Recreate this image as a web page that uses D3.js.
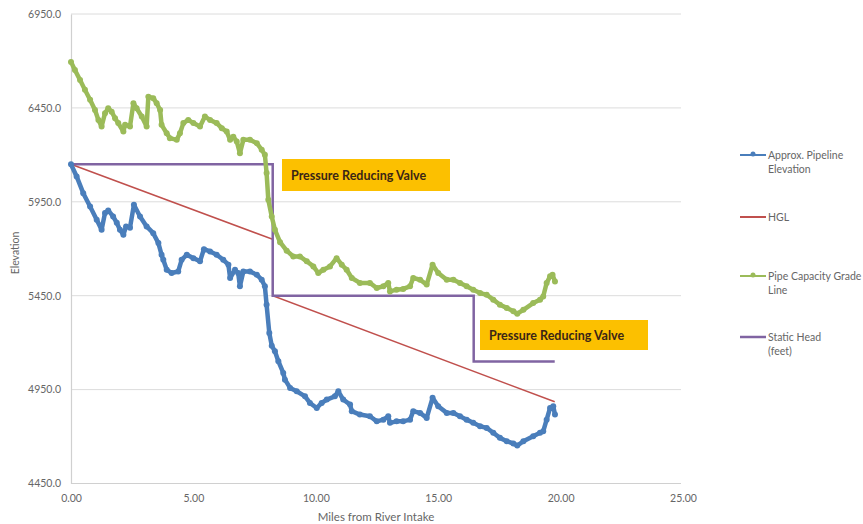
<!DOCTYPE html>
<html>
<head>
<meta charset="utf-8">
<script src="https://cdn.jsdelivr.net/npm/d3@7"></script>
<style>
  html, body { margin: 0; padding: 0; background: #ffffff; }
  svg { display: block; }
</style>
</head>
<body>
<div id="chart"></div>
<script>
// Pipeline profile: miles from the river intake vs elevation (feet)
const pipelineMiles = [0,0.23,0.5,0.78,1.05,1.25,1.39,1.52,1.72,1.87,2.0,2.14,2.25,2.41,2.57,2.82,3.09,3.36,3.57,3.7,3.77,3.91,4.11,4.38,4.52,4.73,5.0,5.27,5.43,5.68,5.95,6.22,6.43,6.5,6.7,6.83,6.9,7.04,7.31,7.59,7.79,7.92,7.99,8.1,8.2,8.33,8.47,8.67,8.74,8.95,9.22,9.56,9.76,10.04,10.24,10.45,10.78,10.92,11.12,11.4,11.47,11.8,12.21,12.49,12.76,12.96,13.03,13.3,13.57,13.85,13.98,14.26,14.53,14.77,15.0,15.35,15.62,15.89,16.16,16.43,16.71,16.98,17.25,17.52,17.8,18.07,18.23,18.48,18.88,19.16,19.29,19.43,19.57,19.7,19.77];
const pipelineElev = [6150,6085,5996,5925,5854,5801,5891,5904,5872,5838,5801,5774,5819,5812,5934,5872,5819,5783,5730,5668,5641,5588,5571,5579,5641,5668,5650,5633,5698,5686,5668,5641,5615,5544,5588,5571,5500,5579,5579,5562,5535,5500,5402,5252,5184,5154,5101,5039,5003,4959,4941,4914,4879,4852,4879,4897,4914,4941,4897,4870,4835,4817,4808,4781,4790,4808,4773,4781,4781,4790,4835,4826,4799,4906,4861,4826,4826,4808,4790,4773,4755,4746,4720,4693,4675,4663,4652,4675,4702,4720,4728,4790,4852,4861,4817];

const capacityMiles = [0,0.16,0.37,0.57,0.78,0.98,1.12,1.25,1.39,1.52,1.66,1.8,1.93,2.14,2.21,2.41,2.55,2.68,2.89,3.09,3.16,3.36,3.5,3.64,3.7,3.91,4.04,4.32,4.45,4.59,4.79,5.0,5.27,5.47,5.68,5.95,6.16,6.36,6.5,6.63,6.77,6.9,7.04,7.31,7.59,7.79,7.92,7.99,8.06,8.2,8.33,8.54,8.81,9.08,9.35,9.63,9.9,10.1,10.31,10.58,10.85,11.06,11.26,11.47,11.8,12.21,12.49,12.76,12.96,13.03,13.3,13.57,13.85,13.98,14.26,14.53,14.77,15.0,15.35,15.62,15.89,16.16,16.43,16.71,16.98,17.25,17.52,17.8,18.07,18.23,18.48,18.88,19.16,19.29,19.43,19.57,19.67,19.77];
const capacityElev = [6695,6652,6599,6546,6493,6439,6386,6351,6422,6448,6430,6395,6369,6324,6360,6351,6475,6448,6404,6351,6510,6502,6475,6439,6360,6315,6289,6280,6315,6369,6386,6369,6351,6404,6386,6369,6342,6324,6280,6297,6271,6209,6280,6280,6262,6227,6200,6103,5961,5872,5801,5735,5690,5659,5659,5633,5606,5571,5588,5606,5650,5615,5588,5544,5518,5518,5491,5500,5518,5473,5482,5486,5500,5544,5535,5509,5615,5571,5535,5535,5518,5500,5482,5464,5455,5429,5402,5385,5367,5354,5375,5411,5429,5446,5518,5553,5562,5526];

const hglMiles = [0, 8.24, 8.24, 19.76];
const hglElev  = [6150, 5750, 5450, 4885];

const staticMiles = [0, 8.24, 8.24, 16.45, 16.45, 19.76];
const staticElev  = [6150, 6150, 5450, 5450, 5100, 5100];

const yTicks = [4450, 4950, 5450, 5950, 6450, 6950];
const xTicks = [0, 5, 10, 15, 20, 25];

const valveLabels = ["Pressure Reducing Valve", "Pressure Reducing Valve"];

const legendNames = [
  ["Approx. Pipeline", "Elevation"],
  ["HGL"],
  ["Pipe Capacity Grade", "Line"],
  ["Static Head", "(feet)"]
];

// ---- layout ----
const W = 863, H = 524;
const plot = { left: 71, right: 683, top: 14, bottom: 483.5 };
const colors = { pipe: "#4a7ebb", hgl: "#c0504d", cap: "#9bbb59", stat: "#8064a2" };
const font = "Lato, 'Open Sans', sans-serif";
const textGrey = "#666666";

const svg = d3.select("#chart").append("svg").attr("width", W).attr("height", H);

const x = d3.scaleLinear().domain([0, 25]).range([plot.left, plot.right]);
const y = d3.scaleLinear().domain([4450, 6950]).range([plot.bottom, plot.top]);

// gridlines
svg.append("g")
  .selectAll("line").data(yTicks.slice(1)).join("line")
  .attr("x1", plot.left).attr("x2", plot.right - 2)
  .attr("y1", d => y(d)).attr("y2", d => y(d))
  .attr("stroke", "#dcdcdc").attr("stroke-width", 1);

// axes
const yAxis = svg.append("g")
  .attr("transform", `translate(${plot.left},0)`)
  .call(d3.axisLeft(y).tickValues(yTicks).tickSize(0).tickPadding(10).tickFormat(d3.format(".1f")));
const xAxis = svg.append("g")
  .attr("transform", `translate(0,${plot.bottom})`)
  .call(d3.axisBottom(x).tickValues(xTicks).tickSize(0).tickPadding(11).tickFormat(d3.format(".2f")));
[yAxis, xAxis].forEach(g => {
  g.select(".domain").attr("stroke", "#d0d0d0").attr("stroke-width", 1.2);
  g.selectAll("text").attr("fill", textGrey).style("font-family", font).style("font-size", "10.5px");
});
xAxis.select(".domain").attr("d", `M${plot.left},0H${plot.right - 2}`);

// axis titles
svg.append("text")
  .attr("x", 376).attr("y", 521).attr("text-anchor", "middle")
  .attr("fill", textGrey).style("font-family", font).style("font-size", "11.5px")
  .text("Miles from River Intake");
svg.append("text")
  .attr("transform", "translate(19,253) rotate(-90)").attr("text-anchor", "middle")
  .attr("fill", textGrey).style("font-family", font).style("font-size", "10.5px")
  .text("Elevation");

const zip = (xs, ys) => xs.map((v, i) => [v, ys[i]]);
const line = d3.line().x(d => x(d[0])).y(d => y(d[1]));

const pipeData = zip(pipelineMiles, pipelineElev);
const capData = zip(capacityMiles, capacityElev);

// HGL
svg.append("path").datum(zip(hglMiles, hglElev))
  .attr("d", line).attr("fill", "none")
  .attr("stroke", colors.hgl).attr("stroke-width", 1.5);

// Static head
svg.append("path").datum(zip(staticMiles, staticElev))
  .attr("d", line).attr("fill", "none")
  .attr("stroke", colors.stat).attr("stroke-width", 2.5);

// marker series: thick line with a dot at each surveyed point
function markerSeries(data, color) {
  const g = svg.append("g");
  g.append("path").datum(data).attr("d", line).attr("fill", "none")
    .attr("stroke", color).attr("stroke-width", 4.5)
    .attr("stroke-linejoin", "round").attr("stroke-linecap", "round");
  g.selectAll("circle").data(data).join("circle")
    .attr("cx", d => x(d[0])).attr("cy", d => y(d[1])).attr("r", 3)
    .attr("fill", color);
}
markerSeries(capData, colors.cap);
markerSeries(pipeData, colors.pipe);

// valve callouts
const valveBoxes = [
  { x: 282, y: 159, w: 168, h: 32 },
  { x: 480, y: 320, w: 168, h: 30 }
];
valveBoxes.forEach((b, i) => {
  svg.append("rect").attr("x", b.x).attr("y", b.y).attr("width", b.w).attr("height", b.h)
    .attr("fill", "#fcc000");
  svg.append("text").attr("x", b.x + 9).attr("y", b.y + b.h / 2 + 4.5)
    .attr("fill", "#3b2616").style("font-family", font).style("font-weight", "bold")
    .style("font-size", "12.5px").text(valveLabels[i]);
});

// legend
const legendY = [155, 217, 276, 337];
const legendColors = [colors.pipe, colors.hgl, colors.cap, colors.stat];
const legendMarker = [true, false, true, false];
legendNames.forEach((lines, i) => {
  const ly = legendY[i];
  svg.append("line").attr("x1", 740).attr("x2", 766).attr("y1", ly).attr("y2", ly)
    .attr("stroke", legendColors[i]).attr("stroke-width", i === 3 ? 2.5 : 2);
  if (legendMarker[i]) {
    svg.append("circle").attr("cx", 753).attr("cy", ly - 1).attr("r", 2.5).attr("fill", legendColors[i]);
  }
  lines.forEach((t, j) => {
    svg.append("text").attr("x", 768).attr("y", ly + 3.5 + j * 14.5)
      .attr("fill", textGrey).style("font-family", font).style("font-size", "10.5px").text(t);
  });
});
</script>
</body>
</html>
